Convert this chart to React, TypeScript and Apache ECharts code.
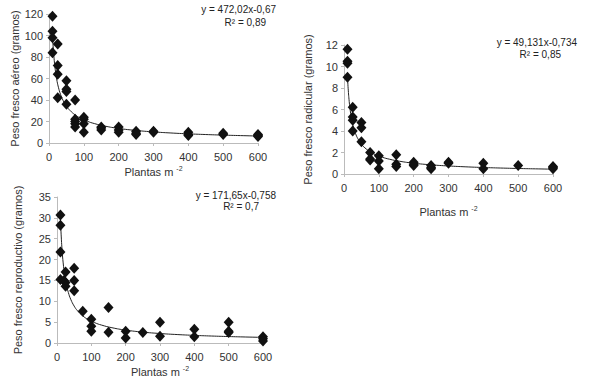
import React, { useEffect, useRef } from "react";
import * as echarts from "echarts";

// Chart 1: Peso fresco aéreo
const aereoPoints: [number, number][] = [
  [10, 118], [10, 104], [10, 98], [10, 84],
  [25, 92], [25, 72], [25, 64], [25, 42],
  [50, 58], [50, 50], [50, 48], [50, 36],
  [75, 40], [75, 22], [75, 20], [75, 18], [75, 15],
  [100, 24], [100, 22], [100, 18], [100, 10],
  [150, 15], [150, 14], [150, 12],
  [200, 15], [200, 12], [200, 10],
  [250, 11], [250, 9], [250, 8],
  [300, 11], [300, 10],
  [400, 10], [400, 8], [400, 7],
  [500, 9], [500, 8],
  [600, 8], [600, 7], [600, 6],
];
// Chart 2: Peso fresco radicular
const radicularPoints: [number, number][] = [
  [10, 11.6], [10, 10.5], [10, 10.3], [10, 9],
  [25, 6.2], [25, 5.3], [25, 5.0], [25, 4.0],
  [50, 4.8], [50, 4.3], [50, 3.0],
  [75, 2.0], [75, 1.4], [75, 1.3],
  [100, 1.7], [100, 1.2], [100, 0.5],
  [150, 1.8], [150, 0.9], [150, 0.7],
  [200, 1.1], [200, 0.9], [200, 0.8],
  [250, 0.8], [250, 0.6], [250, 0.5],
  [300, 1.1], [300, 1.0],
  [400, 1.0], [400, 0.5],
  [500, 0.8],
  [600, 0.7], [600, 0.6], [600, 0.5],
];
// Chart 3: Peso fresco reproductivo
const reproductivoPoints: [number, number][] = [
  [10, 30.7], [10, 28.2], [10, 21.8], [10, 15.2],
  [20, 15], [25, 17], [25, 14.5], [25, 13.6],
  [50, 17.9], [50, 15], [50, 12.5],
  [75, 7.6],
  [100, 5.7], [100, 4], [100, 2.8],
  [150, 8.5], [150, 2.6],
  [200, 2.8], [200, 1.2],
  [250, 2.5],
  [300, 5], [300, 1.6],
  [400, 3.3], [400, 1.5],
  [500, 5], [500, 2.8], [500, 2.5],
  [600, 1.5], [600, 1], [600, 0.5],
];

// Power trendline coefficients (y = a·x^b) as printed on the chart
const trend1 = { a: 472.02, b: -0.67 };
const trend2 = { a: 49.131, b: -0.734 };
const trend3 = { a: 171.65, b: -0.758 };
const trendX = [10, 12, 15, 18, 22, 27, 33, 40, 50, 60, 75, 90, 110, 130, 160, 200, 250, 300, 350, 400, 450, 500, 550, 600];

const font = "'Liberation Sans', Arial, sans-serif";
const labelColor = "#333";

function trend(t: { a: number; b: number }) {
  return trendX.map((x) => [x, t.a * Math.pow(x, t.b)]);
}

export default function App() {
  const ref = useRef<HTMLDivElement>(null);
  useEffect(() => {
    if (!ref.current) return;
    const chart = echarts.init(ref.current, undefined, { renderer: "svg" });
    const grids = [
      { left: 49, top: 14, width: 209, height: 129 },
      { left: 344, top: 45, width: 209, height: 129 },
      { left: 57, top: 197, width: 206, height: 146 },
    ];
    const yNames = ["Peso fresco aéreo (gramos)", "Peso fresco radicular (gramos)", "Peso fresco reproductivo (gramos)"];
    const yMax = [120, 12, 35];
    const yInt = [20, 2, 5];
    const yGap = [28, 31, 34];
    const xGap = [22, 31, 22];
    const xAxis = grids.map((_, i) => ({
      type: "value",
      gridIndex: i,
      min: 0,
      max: 600,
      interval: 100,
      name: "Plantas m {sup|-2}",
      nameLocation: "middle",
      nameGap: xGap[i],
      nameTextStyle: {
        fontFamily: font, fontSize: 11, color: labelColor,
        rich: { sup: { fontSize: 7, verticalAlign: "top", padding: [0, 0, 6, 0], color: labelColor, fontFamily: font } },
      },
      axisLine: { show: true, lineStyle: { color: "#bbb" } },
      axisTick: { show: true, length: 3, lineStyle: { color: "#bbb" } },
      axisLabel: { fontFamily: font, fontSize: 11, color: labelColor, margin: 8 },
      splitLine: { show: false },
    }));
    const yAxis = grids.map((_, i) => ({
      type: "value",
      gridIndex: i,
      min: 0,
      max: yMax[i],
      interval: yInt[i],
      name: yNames[i],
      nameLocation: "middle",
      nameGap: yGap[i],
      nameTextStyle: { fontFamily: font, fontSize: 11, color: labelColor },
      axisLine: { show: true, lineStyle: { color: "#bbb" } },
      axisTick: { show: true, length: 3, lineStyle: { color: "#bbb" } },
      axisLabel: { fontFamily: font, fontSize: 11, color: labelColor, margin: 6 },
      splitLine: { show: false },
    }));
    const pts = [aereoPoints, radicularPoints, reproductivoPoints];
    const trends = [trend1, trend2, trend3];
    const series: any[] = [];
    pts.forEach((p, i) => {
      series.push({
        type: "line",
        xAxisIndex: i,
        yAxisIndex: i,
        data: trend(trends[i]),
        smooth: true,
        showSymbol: false,
        symbol: "none",
        lineStyle: { color: "#222", width: 1 },
        z: 2,
      });
      series.push({
        type: "scatter",
        xAxisIndex: i,
        yAxisIndex: i,
        data: p,
        symbol: "diamond",
        symbolSize: [10, 11],
        itemStyle: { color: "#111", opacity: 1 },
        z: 3,
      });
    });
    const eqStyle = { fontFamily: font, fontSize: 10, fill: "#222" };
    chart.setOption({
      animation: false,
      backgroundColor: "#fff",
      grid: grids,
      xAxis,
      yAxis,
      series,
      graphic: [
        { type: "text", right: 313, top: 4, style: { ...eqStyle, text: "y = 472,02x-0,67" } },
        { type: "text", right: 323, top: 17, style: { ...eqStyle, text: "R² = 0,89" } },
        { type: "text", right: 12, top: 37, style: { ...eqStyle, text: "y = 49,131x-0,734" } },
        { type: "text", right: 28, top: 49, style: { ...eqStyle, text: "R² = 0,85" } },
        { type: "text", right: 313, top: 190, style: { ...eqStyle, text: "y = 171,65x-0,758" } },
        { type: "text", right: 330, top: 201, style: { ...eqStyle, text: "R² = 0,7" } },
      ],
    });
    return () => chart.dispose();
  }, []);
  return <div ref={ref} style={{ width: 589, height: 386, position: "absolute", left: 0, top: 0 }} />;
}
